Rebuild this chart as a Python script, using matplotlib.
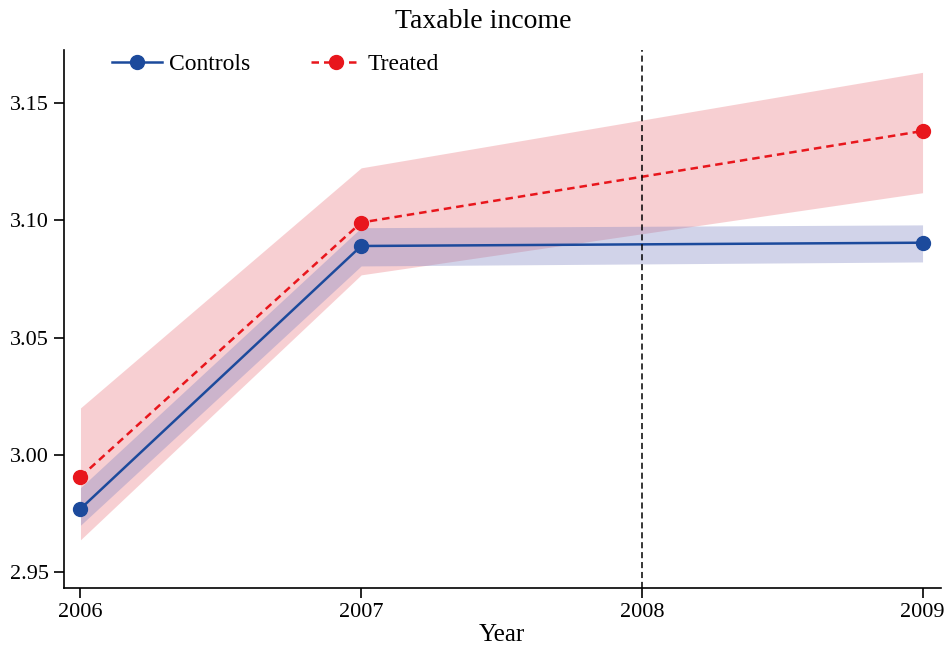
import numpy as np
import matplotlib
matplotlib.use("Agg")
import matplotlib.pyplot as plt

# yearly means and confidence bands (no estimate for 2008)
years = [2006, 2007, 2009]
controls = [2.977, 3.089, 3.0904]
controls_lo = [2.970, 3.0805, 3.0822]
controls_hi = [2.986, 3.0968, 3.0980]
treated = [2.9906, 3.0990, 3.1380]
treated_lo = [2.9638, 3.0767, 3.1117]
treated_hi = [3.0200, 3.1223, 3.1630]

xticks = [2006, 2007, 2008, 2009]
yticks = [2.95, 3.00, 3.05, 3.10, 3.15]
reform_year = 2008

plt.rcParams['font.family'] = ['Liberation Serif', 'DejaVu Serif']

blue = '#1c4a9c'
red = '#e8161c'

fig, ax = plt.subplots(figsize=(9.5, 6.47), dpi=100)
fig.subplots_adjust(left=0.067, right=0.99, bottom=0.091, top=0.923)

ax.fill_between(years, treated_lo, treated_hi, color='#f2a9ad', alpha=0.55, lw=0)
ax.fill_between(years, controls_lo, controls_hi, color='#7d83c2', alpha=0.35, lw=0)

ax.plot(years, controls, '-', color=blue, lw=1.8, marker='o', ms=10, label='Controls')
ax.plot(years, treated, '--', color=red, lw=1.8, marker='o', ms=10,
        dashes=(3, 2), label='Treated')

ax.axvline(reform_year, color='black', lw=1.1, ls=(0, (4, 2.5)))

ax.set_xlim(2005.94, 2009.064)
ax.set_ylim(2.9432, 3.1726)
ax.set_xticks(xticks)
ax.set_yticks(yticks)
ax.set_yticklabels([f'{v:.2f}' for v in yticks])
ax.tick_params(labelsize=16, length=7, width=1.2, direction='out', color='black')
for side in ['top', 'right']:
    ax.spines[side].set_visible(False)
for side in ['left', 'bottom']:
    ax.spines[side].set_linewidth(1.2)

ax.set_xlabel('Year', fontsize=18, labelpad=2)
ax.set_title('Taxable income', fontsize=20, pad=16, x=0.479)

ax.legend(loc='upper left', ncol=2, frameon=False, fontsize=17,
          bbox_to_anchor=(0.031, 1.032), handlelength=2.1, columnspacing=2.6,
          handletextpad=0.3)

fig.savefig('out.png', dpi=100)
